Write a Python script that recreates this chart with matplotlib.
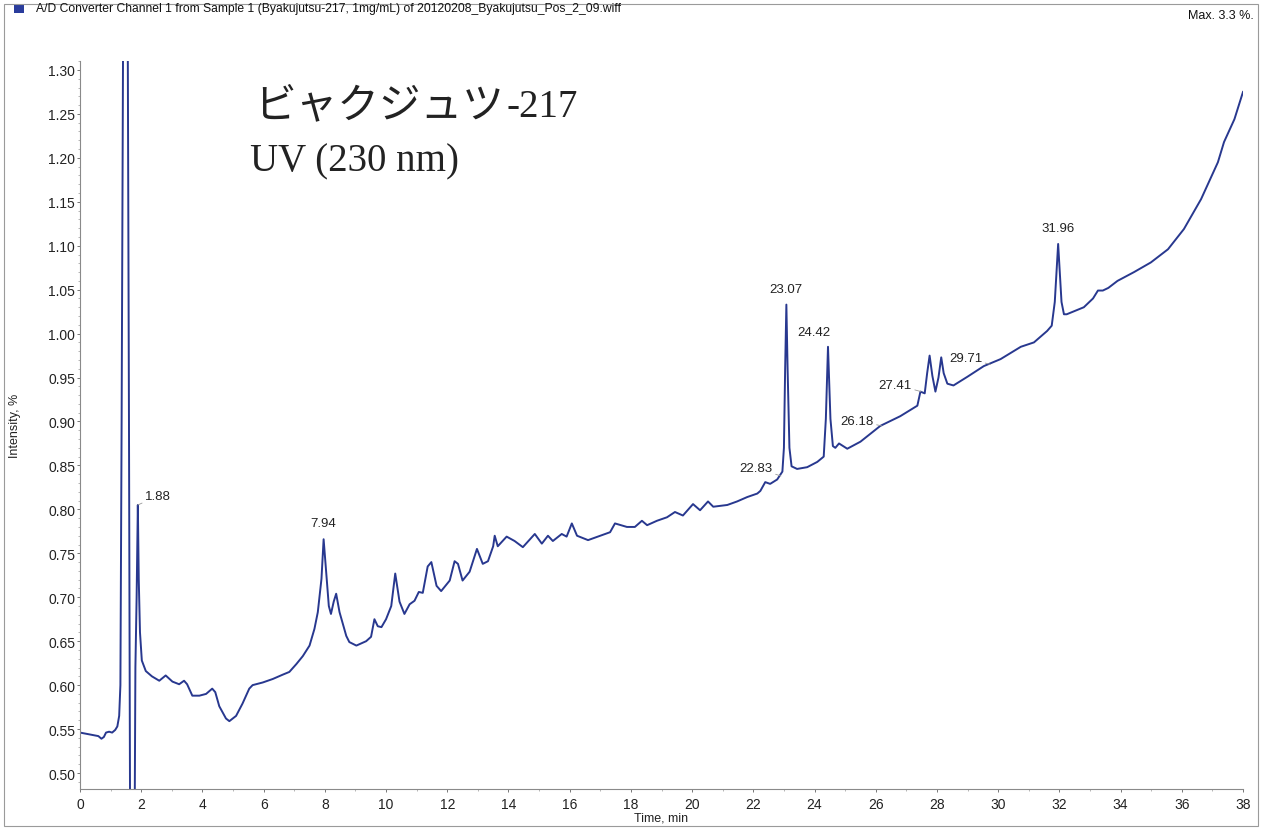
import matplotlib
matplotlib.use("Agg")
import matplotlib.pyplot as plt
from matplotlib.ticker import MultipleLocator, FormatStrFormatter
from matplotlib.patches import Rectangle

# ---- data ----
time_min = [
    0.00, 0.15, 0.30, 0.45, 0.60, 0.70, 0.78, 0.85, 0.95, 1.05, 1.15, 1.22,
    1.28, 1.32, 1.36, 1.42, 1.55, 1.60, 1.64, 1.78, 1.81, 1.85, 1.89, 1.92,
    1.96, 2.02, 2.15, 2.35, 2.59, 2.80, 3.02, 3.24, 3.40, 3.50, 3.67, 3.90,
    4.12, 4.32, 4.42, 4.55, 4.77, 4.88, 5.10, 5.31, 5.53, 5.64, 5.97, 6.30,
    6.63, 6.84, 7.07, 7.28, 7.50, 7.66, 7.77, 7.89, 7.96, 8.05, 8.13, 8.20,
    8.29, 8.37, 8.48, 8.70, 8.80, 9.03, 9.35, 9.51, 9.62, 9.73, 9.85, 10.00,
    10.17, 10.30, 10.44, 10.60, 10.77, 10.93, 11.07, 11.20, 11.36, 11.48, 11.65, 11.80,
    12.08, 12.24, 12.35, 12.50, 12.73, 12.97, 13.16, 13.33, 13.50, 13.55, 13.65, 13.94,
    14.20, 14.47, 14.86, 15.09, 15.29, 15.45, 15.74, 15.90, 16.07, 16.24, 16.60, 17.00,
    17.32, 17.48, 17.87, 18.13, 18.36, 18.53, 18.85, 19.18, 19.44, 19.70, 20.03, 20.26,
    20.52, 20.69, 21.15, 21.47, 21.80, 22.13, 22.23, 22.39, 22.55, 22.78, 22.95, 23.00,
    23.04, 23.08, 23.12, 23.18, 23.25, 23.43, 23.76, 24.09, 24.30, 24.37, 24.44, 24.52,
    24.60, 24.68, 24.80, 25.07, 25.50, 26.15, 26.80, 27.36, 27.46, 27.60, 27.68, 27.76,
    27.85, 27.95, 28.05, 28.14, 28.22, 28.34, 28.54, 29.00, 29.53, 30.08, 30.74, 31.17,
    31.60, 31.75, 31.85, 31.96, 32.07, 32.15, 32.24, 32.80, 33.10, 33.26, 33.42, 33.60,
    33.90, 34.44, 34.99, 35.55, 36.07, 36.63, 37.18, 37.38, 37.72, 38.00,
]
intensity_pct = [
    0.546, 0.545, 0.544, 0.543, 0.542, 0.539, 0.541, 0.546, 0.547, 0.546, 0.549, 0.553,
    0.565, 0.600, 0.900, 1.450, 1.450, 0.900, 0.400, 0.400, 0.620, 0.700, 0.805, 0.720,
    0.660, 0.628, 0.616, 0.610, 0.605, 0.611, 0.604, 0.601, 0.605, 0.601, 0.588, 0.588,
    0.590, 0.596, 0.592, 0.576, 0.562, 0.559, 0.565, 0.579, 0.596, 0.600, 0.603, 0.607,
    0.612, 0.615, 0.624, 0.633, 0.645, 0.664, 0.683, 0.721, 0.766, 0.725, 0.690, 0.681,
    0.695, 0.704, 0.683, 0.656, 0.649, 0.645, 0.650, 0.655, 0.675, 0.667, 0.666, 0.675,
    0.690, 0.727, 0.695, 0.681, 0.692, 0.696, 0.706, 0.705, 0.735, 0.740, 0.713, 0.707,
    0.719, 0.741, 0.738, 0.719, 0.729, 0.755, 0.738, 0.741, 0.758, 0.770, 0.758, 0.769,
    0.764, 0.757, 0.772, 0.761, 0.770, 0.764, 0.772, 0.769, 0.784, 0.770, 0.765, 0.770,
    0.774, 0.784, 0.780, 0.780, 0.787, 0.782, 0.787, 0.791, 0.797, 0.793, 0.806, 0.799,
    0.809, 0.803, 0.805, 0.809, 0.814, 0.818, 0.821, 0.831, 0.829, 0.834, 0.843, 0.870,
    0.960, 1.033, 0.960, 0.870, 0.849, 0.846, 0.848, 0.854, 0.860, 0.903, 0.985, 0.903,
    0.872, 0.870, 0.875, 0.869, 0.877, 0.895, 0.906, 0.918, 0.934, 0.932, 0.955, 0.975,
    0.952, 0.934, 0.950, 0.973, 0.955, 0.943, 0.941, 0.951, 0.963, 0.971, 0.985, 0.990,
    1.003, 1.009, 1.036, 1.102, 1.036, 1.022, 1.022, 1.030, 1.040, 1.049, 1.049, 1.052,
    1.060, 1.070, 1.081, 1.096, 1.119, 1.153, 1.195, 1.218, 1.244, 1.275,
]

# peak annotations: label, anchor time, anchor intensity
peak_labels = ["1.88", "7.94", "22.83", "23.07", "24.42", "26.18", "27.41", "29.71", "31.96"]
peak_times = [1.89, 7.96, 22.90, 23.08, 24.44, 26.20, 27.48, 29.75, 31.96]
peak_heights = [0.805, 0.766, 0.838, 1.033, 0.985, 0.895, 0.934, 0.965, 1.102]

x_ticks = list(range(0, 39, 2))
y_ticks = [0.50, 0.55, 0.60, 0.65, 0.70, 0.75, 0.80, 0.85, 0.90, 0.95,
           1.00, 1.05, 1.10, 1.15, 1.20, 1.25, 1.30]

# ---- figure ----
W, H = 1270, 829
fig = plt.figure(figsize=(W / 100, H / 100), dpi=100)
fig.patch.set_facecolor("white")

ax = fig.add_axes([80 / W, 1 - 790 / H, (1243 - 80) / W, (790 - 62) / H])
line_color = "#28388f"
ax.plot(time_min, intensity_pct, color=line_color, lw=1.4, solid_joinstyle="round")

ax.set_xlim(0, 38)
ax.set_ylim(0.4818, 1.3102)
ax.set_xticks(x_ticks)
ax.set_yticks(y_ticks)
ax.xaxis.set_minor_locator(MultipleLocator(1))
ax.yaxis.set_minor_locator(MultipleLocator(0.01))
ax.yaxis.set_major_formatter(FormatStrFormatter("%.2f"))

for s in ["top", "right"]:
    ax.spines[s].set_visible(False)
for s in ["left", "bottom"]:
    ax.spines[s].set_color("#8a8a8a")
    ax.spines[s].set_linewidth(0.8)

ax.tick_params(axis="both", which="major", length=2.5, width=0.7, color="#777777",
               labelsize=10, labelcolor="#222222", pad=1)
ax.tick_params(axis="x", which="major", pad=3)
ax.tick_params(axis="both", which="minor", length=1.5, width=0.5, color="#999999")
for lab in ax.get_xticklabels() + ax.get_yticklabels():
    lab.set_family("Liberation Sans")

ax.set_xlabel("Time, min", fontsize=9, family="Liberation Sans", color="#222222")
ax.set_ylabel("Intensity, %", fontsize=9, family="Liberation Sans", color="#222222")
ax.yaxis.set_label_coords(-(80 - 15) / 1163, 0.5)
ax.xaxis.set_label_coords(0.5, -(819 - 790) / 728)
ax.xaxis.label.set_va("center")
ax.yaxis.label.set_va("center")

# peak labels with leader lines (offsets in pixels)
offsets = {
    "1.88": (7, 9, "left"),
    "7.94": (0, 10, "center"),
    "22.83": (-8, 8, "right"),
    "23.07": (0, 10, "center"),
    "24.42": (-14, 9, "center"),
    "26.18": (-8, 5, "right"),
    "27.41": (-9, 7, "right"),
    "29.71": (-8, 6, "right"),
    "31.96": (0, 10, "center"),
}
for lab, t, v in zip(peak_labels, peak_times, peak_heights):
    dx, dy, ha = offsets[lab]
    ax.annotate(lab, xy=(t, v), xytext=(dx, dy), textcoords="offset pixels",
                ha=ha, va="bottom" if ha == "center" else "center",
                fontsize=9.5, family="Liberation Sans", color="#222222",
                arrowprops=dict(arrowstyle="-", color="#999999", lw=0.6,
                                shrinkA=0, shrinkB=0) if ha != "center" else None)

# title text inside plot
fig.text(254 / W, 1 - 117 / H, "ビャクジュツ", family=["Noto Sans CJK JP", "DejaVu Sans"],
         fontsize=30, color="#222222", va="baseline", ha="left")
fig.text(507 / W, 1 - 117 / H, "-217", family="Liberation Serif",
         fontsize=28, color="#222222", va="baseline", ha="left")
fig.text(250 / W, 1 - 171 / H, "UV (230 nm)", family="Liberation Serif",
         fontsize=28, color="#222222", va="baseline", ha="left")

# header
fig.patches.append(Rectangle((14 / W, 1 - 14 / H), 10 / W, 9 / H, transform=fig.transFigure,
                             facecolor="#2a3c9c", edgecolor="none"))
fig.text(36 / W, 1 - 9 / H,
         "A/D Converter Channel 1 from Sample 1 (Byakujutsu-217, 1mg/mL) of 20120208_Byakujutsu_Pos_2_09.wiff",
         family="Liberation Sans", fontsize=8.7, color="#111111", va="center", ha="left")
fig.text(1254 / W, 1 - 16 / H, "Max. 3.3 %.", family="Liberation Sans", fontsize=9,
         color="#111111", va="center", ha="right")

# outer frame
fig.patches.append(Rectangle((4 / W, 1 - 827 / H), (1258 - 4) / W, (827 - 5) / H,
                             transform=fig.transFigure, facecolor="none",
                             edgecolor="#9a9a9a", lw=0.8))

fig.savefig("out.png", dpi=100)
